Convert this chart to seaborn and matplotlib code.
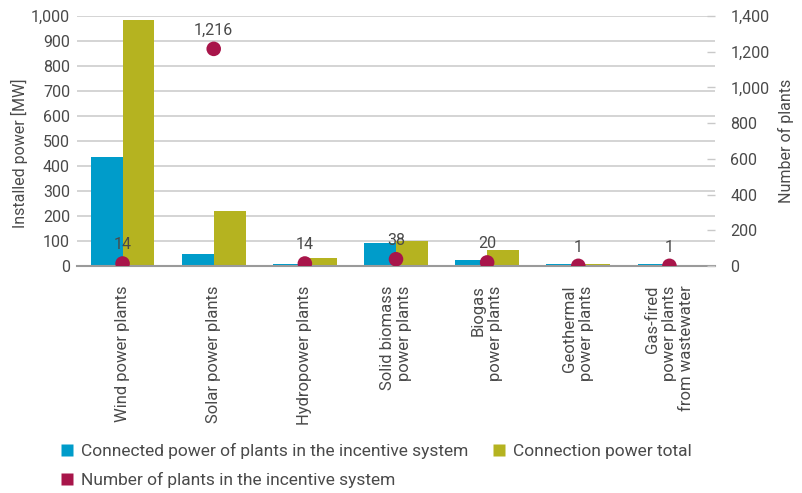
import numpy as np
import pandas as pd
import matplotlib
matplotlib.use("Agg")
import matplotlib.pyplot as plt
from matplotlib.ticker import FixedLocator, FuncFormatter
from matplotlib.lines import Line2D
import seaborn as sns

categories = [
    "Wind power plants",
    "Solar power plants",
    "Hydropower plants",
    "Solid biomass\npower plants",
    "Biogas\npower plants",
    "Geothermal\npower plants",
    "Gas-fired\npower plants\nfrom wastewater",
]
incentive_power = [436, 50, 8, 92, 24, 7, 7]
total_power = [986, 222, 34, 102, 63, 7, 0]
plant_counts = [14, 1216, 14, 38, 20, 1, 1]

series_names = [
    "Connected power of plants in the incentive system",
    "Connection power total",
]
count_name = "Number of plants in the incentive system"

BLUE = "#009cca"
OLIVE = "#b5b320"
MAROON = "#a8154a"
TEXT = "#4a4a4a"
GRID = "#c9c9c9"
AXIS = "#9a9a9a"

sns.set_theme(style="white")
plt.rcParams["font.family"] = ["Roboto", "DejaVu Sans"]
plt.rcParams["text.color"] = TEXT
plt.rcParams["axes.labelcolor"] = TEXT
plt.rcParams["xtick.color"] = TEXT
plt.rcParams["ytick.color"] = TEXT

FS = 11.5

df = pd.DataFrame({
    "category": categories * 2,
    "series": [series_names[0]] * len(categories) + [series_names[1]] * len(categories),
    "value": incentive_power + total_power,
})
counts_df = pd.DataFrame({"category": categories, "count": plant_counts})

fig = plt.figure(figsize=(8.03, 4.93), dpi=100)
W, H = 803, 493
ax = fig.add_axes([77 / W, (H - 266) / H, (715 - 77) / W, (266 - 16) / H])

sns.barplot(data=df, x="category", y="value", hue="series",
            palette=[BLUE, OLIVE], width=0.7, saturation=1,
            ax=ax, legend=False, linewidth=0)

ax.set_xlim(-0.5, len(categories) - 0.5)
ax.set_ylim(0, 1000)
ax.set_yticks(np.arange(0, 1001, 100))
ax.yaxis.set_major_formatter(FuncFormatter(lambda v, p: f"{int(v):,}"))
ax.yaxis.grid(True, color=GRID, linewidth=1.1)
ax.set_axisbelow(True)
ax.tick_params(axis="y", length=0, pad=5, labelsize=FS)
ax.set_ylabel("Installed power [MW]", fontsize=FS)
ax.yaxis.set_label_coords(-0.077, 0.452)
ax.set_xlabel("")

# category labels, with boundary ticks between groups
ax.tick_params(axis="x", which="major", length=0, pad=14, labelsize=12)
ax.xaxis.set_minor_locator(FixedLocator(np.arange(-0.5, len(categories), 1.0)))
ax.tick_params(axis="x", which="minor", length=5, width=1.3, color=AXIS, direction="out")
for lbl in ax.get_xticklabels():
    lbl.set_rotation(90)
    lbl.set_ha("center")
    lbl.set_va("top")
    lbl.set_multialignment("right")

for side in ["left", "right", "top"]:
    ax.spines[side].set_visible(False)
ax.spines["bottom"].set_color(AXIS)
ax.spines["bottom"].set_linewidth(1.5)

# plant counts on the secondary axis
ax2 = ax.twinx()
sns.scatterplot(data=counts_df, x="category", y="count", ax=ax2,
                color=MAROON, s=110, edgecolor="none", zorder=5, legend=False)
ax2.set_ylim(0, 1400)
ax2.set_yticks(np.arange(0, 1401, 200))
ax2.yaxis.set_major_formatter(FuncFormatter(lambda v, p: f"{int(v):,}"))
ax2.tick_params(axis="y", direction="in", length=6, width=1, color=GRID,
                pad=11, labelsize=FS)
ax2.set_ylabel("Number of plants", fontsize=FS, labelpad=6)
ax2.set_xlabel("")
for side in ["left", "right", "top", "bottom"]:
    ax2.spines[side].set_visible(False)

for i, c in enumerate(plant_counts):
    ax2.annotate(f"{c:,}", (i, c), xytext=(0, 8), textcoords="offset points",
                 ha="center", va="bottom", fontsize=FS, color=TEXT, zorder=6)

handles = [
    Line2D([], [], marker="s", linestyle="none", markersize=9,
           markerfacecolor=BLUE, markeredgecolor="none", label=series_names[0]),
    Line2D([], [], marker="s", linestyle="none", markersize=9,
           markerfacecolor=MAROON, markeredgecolor="none", label=count_name),
    Line2D([], [], marker="s", linestyle="none", markersize=9,
           markerfacecolor=OLIVE, markeredgecolor="none", label=series_names[1]),
]
fig.legend(handles=handles, ncol=2, loc="upper left",
           bbox_to_anchor=(60 / W, (H - 443) / H), frameon=False,
           fontsize=12.5, handlelength=0.8, handletextpad=0.4,
           columnspacing=1.4, labelspacing=0.75, borderaxespad=0, borderpad=0)

fig.savefig("out.png", dpi=100)
